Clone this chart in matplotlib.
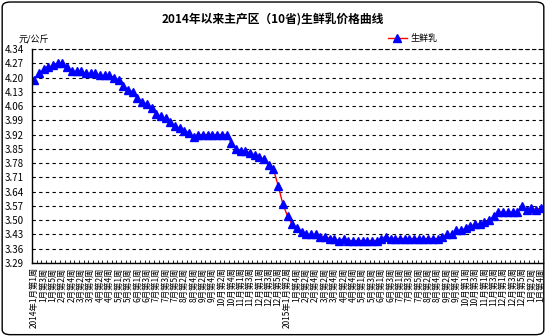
import matplotlib
matplotlib.use("Agg")
import matplotlib.pyplot as plt
from matplotlib.patches import FancyBboxPatch

plt.rcParams['font.family'] = ['Noto Sans CJK SC', 'DejaVu Sans']

# weekly price, 2014 week 1 .. 2016 Jan week 4 (yuan/kg)
prices = [4.19, 4.22, 4.24, 4.25, 4.26, 4.27, 4.27, 4.25, 4.23, 4.23, 4.23, 4.22, 4.22, 4.22, 4.21, 4.21, 4.21, 4.20,
          4.19, 4.16, 4.14, 4.13, 4.10, 4.08, 4.07, 4.05, 4.02, 4.01, 4.00, 3.98, 3.96, 3.95, 3.94, 3.93, 3.91, 3.92,
          3.92, 3.92, 3.92, 3.92, 3.92, 3.92, 3.88, 3.85, 3.84, 3.84, 3.83, 3.82, 3.81, 3.80, 3.77, 3.75, 3.67, 3.58,
          3.52, 3.48, 3.46, 3.44, 3.43, 3.43, 3.43, 3.42, 3.42, 3.41, 3.41, 3.40, 3.41, 3.40, 3.40, 3.40, 3.40, 3.40,
          3.40, 3.40, 3.41, 3.42, 3.41, 3.41, 3.41, 3.41, 3.41, 3.41, 3.41, 3.41, 3.41, 3.41, 3.41, 3.42, 3.43, 3.43,
          3.45, 3.45, 3.46, 3.47, 3.48, 3.48, 3.49, 3.50, 3.52, 3.54, 3.54, 3.54, 3.54, 3.54, 3.57, 3.55, 3.56, 3.55,
          3.56]

# number of reporting weeks per month
weeks_2014 = [5, 4, 4, 5, 4, 4, 5, 4, 4, 5, 4, 5]
weeks_2015 = [4, 4, 4, 5, 4, 4, 5, 4, 5, 4, 4, 5]
weeks_2016 = [4]

y_ticks = [3.29, 3.36, 3.43, 3.50, 3.57, 3.64, 3.71, 3.78, 3.85, 3.92, 3.99, 4.06, 4.13, 4.20, 4.27, 4.34]

week_labels = []
for year, counts in [(2014, weeks_2014), (2015, weeks_2015), (2016, weeks_2016)]:
    for m, n in enumerate(counts, start=1):
        for w in range(1, n + 1):
            week_labels.append((year, m, w))

x = list(range(len(prices)))

fig = plt.figure(figsize=(5.46, 3.36), dpi=100)
ax = fig.add_axes([32 / 546, 1 - 263 / 336, 511 / 546, 214 / 336])

ax.plot(x, prices, color='red', lw=1, marker='^', markersize=5.5,
        markerfacecolor='blue', markeredgecolor='blue', label='生鲜乳')

ax.set_ylim(3.29, 4.34)
ax.set_yticks(y_ticks)
ax.set_yticklabels([f"{v:.2f}" for v in y_ticks], fontsize=7)
ax.yaxis.grid(True, linestyle=(0, (3, 3)), color='black', lw=0.8)
ax.tick_params(axis='y', length=0, pad=6)

ax.set_xlim(-0.5, len(prices) - 0.5)
major = x[::2]
labels = []
seen = set()
for i in major:
    yr, m, w = week_labels[i]
    if yr not in seen and yr < 2016:
        labels.append(f"{yr}年{m}月第{w}周")
    else:
        labels.append(f"{m}月第{w}周")
    seen.add(yr)
ax.set_xticks(major)
ax.set_xticklabels(labels, rotation=90, fontsize=6, va='top')
ax.set_xticks([i - 0.5 for i in x], minor=True)
ax.tick_params(axis='x', which='major', length=0, pad=3)
ax.tick_params(axis='x', which='minor', length=2, direction='in', color='black')

for s in ['left', 'bottom']:
    ax.spines[s].set_color('black')
    ax.spines[s].set_linewidth(1)
ax.spines['top'].set_linestyle((0, (3, 3)))
ax.spines['top'].set_linewidth(0.8)
ax.spines['right'].set_linestyle((0, (1, 2)))
ax.spines['right'].set_color('gray')

fig.text(0.5, 1 - 20 / 336, "2014年以来主产区（10省)生鲜乳价格曲线", ha='center', va='center',
         fontsize=8.5, fontweight='bold')
fig.text(19 / 546, 1 - 40 / 336, "元/公斤", ha='left', va='center', fontsize=6.5)

ax.legend(loc='lower left', bbox_to_anchor=(383 / 546, 1 - 48 / 336), bbox_transform=fig.transFigure,
          frameon=False, fontsize=6.5, handlelength=2.2, borderpad=0, handletextpad=0.3)

fig.patches.append(FancyBboxPatch((0.004, 0.004), 0.992, 0.99, boxstyle="round,pad=0,rounding_size=0.015",
                                  transform=fig.transFigure, fill=False, edgecolor='black', lw=1))

fig.savefig("out.png", dpi=100)
